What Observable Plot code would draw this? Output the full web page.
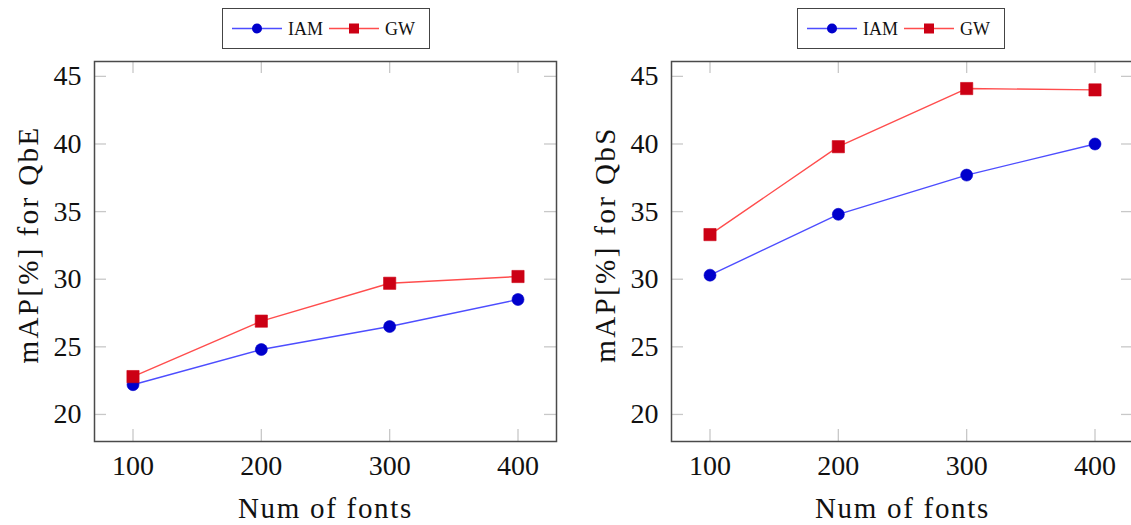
<!DOCTYPE html>
<html><head><meta charset="utf-8">
<script src="https://cdn.jsdelivr.net/npm/d3@7"></script>
<script src="https://cdn.jsdelivr.net/npm/@observablehq/plot@0.6"></script>
<style>
html,body{margin:0;padding:0;background:#fff;overflow:hidden;width:1131px;height:525px}
#root{position:relative;width:1131px;height:525px;overflow:hidden}
.panel{position:absolute;top:0}
.legend{position:absolute;top:8px;width:208px;height:41px;box-sizing:border-box;border:1.4px solid #444;background:#fff}
.legend svg{position:absolute;left:0;top:0}
.legend text{font-family:"Liberation Serif",serif}
</style></head><body><div id="root"></div>
<script>
const fonts = [100, 200, 300, 400];
const seriesNames = ["IAM", "GW"];
const qbeIAM = [22.2, 24.8, 26.5, 28.5];
const qbeGW = [22.8, 26.9, 29.7, 30.2];
const qbsIAM = [30.3, 34.8, 37.7, 40.0];
const qbsGW = [33.3, 39.8, 44.1, 44.0];
const yTicks = [20, 25, 30, 35, 40, 45];
const xTicks = [100, 200, 300, 400];
const yLabels = ["mAP[%] for QbE", "mAP[%] for QbS"];
const xLabel = "Num of fonts";

const lineColors = {IAM: "#4d4dff", GW: "#ff4d4d"};
const markColors = {IAM: "#0000cc", GW: "#cc0014"};
const FONT = "'Liberation Serif', serif";

function table(iam, gw) {
  return [
    ...fonts.map((f, i) => ({fonts: f, value: iam[i], series: "IAM"})),
    ...fonts.map((f, i) => ({fonts: f, value: gw[i], series: "GW"}))
  ];
}

function panel(iam, gw, ylabel) {
  const data = table(iam, gw);
  const W = 565, H = 525, ML = 94, MR = 9, MT = 61, MB = 84;
  const iw = W - ML - MR, ih = H - MT - MB, tl = 12;
  const tickStyle = {stroke: "#c8c8c8", strokeWidth: 1.3};
  const marks = [
    Plot.tickY(yTicks, {y: d => d, insetRight: iw - tl, ...tickStyle}),
    Plot.tickY(yTicks, {y: d => d, insetLeft: iw - tl, ...tickStyle}),
    Plot.tickX(xTicks, {x: d => d, insetTop: ih - tl, ...tickStyle}),
    Plot.tickX(xTicks, {x: d => d, insetBottom: ih - tl, ...tickStyle}),
    Plot.frame({stroke: "#4a4a4a", strokeWidth: 1.5}),
    Plot.axisX({ticks: xTicks, tickSize: 0, tickPadding: 14, fontSize: 28, label: null, fill: "#111"}),
    Plot.axisY({ticks: yTicks, tickSize: 0, tickPadding: 13, fontSize: 28, label: null, fill: "#111"})
  ];
  for (const s of seriesNames) {
    const d = data.filter(r => r.series === s);
    marks.push(Plot.line(d, {x: "fonts", y: "value", stroke: lineColors[s], strokeWidth: 1.4}));
    marks.push(Plot.dot(d, {x: "fonts", y: "value", symbol: s === "IAM" ? "circle" : "square",
      r: s === "IAM" ? 6 : 6.9, fill: markColors[s], stroke: markColors[s], strokeWidth: 0.6}));
  }
  marks.push(Plot.text([xLabel], {frameAnchor: "bottom", dy: 67, fontSize: 29, lineAnchor: "middle",
    textAnchor: "middle", fill: "#111"}));
  marks.push(Plot.text([ylabel], {frameAnchor: "left", rotate: -90, dx: -66, dy: -7, fontSize: 29,
    lineAnchor: "middle", textAnchor: "middle", fill: "#111"}));
  const svg = Plot.plot({
    width: W, height: H, marginLeft: ML, marginRight: MR, marginTop: MT, marginBottom: MB,
    x: {domain: [70, 430]},
    y: {domain: [18, 46.1]},
    style: {fontFamily: FONT, background: "transparent", overflow: "visible"},
    marks
  });
  const labels = d3.select(svg).selectAll('g[aria-label="text"] text').nodes();
  if (labels[0]) labels[0].style.letterSpacing = "1.7px";
  if (labels[1]) labels[1].style.letterSpacing = "2.4px";
  return svg;
}

function legend() {
  const div = document.createElement("div");
  div.className = "legend";
  const svg = d3.create("svg").attr("width", 208).attr("height", 41);
  const cy = 19.5;
  const items = [
    {s: "IAM", x0: 9, x1: 59, mx: 34, tx: 65},
    {s: "GW", x0: 106, x1: 156, mx: 131, tx: 162}
  ];
  for (const it of items) {
    svg.append("line").attr("x1", it.x0).attr("x2", it.x1).attr("y1", cy).attr("y2", cy)
      .attr("stroke", lineColors[it.s]).attr("stroke-width", 1.3);
    if (it.s === "IAM") {
      svg.append("circle").attr("cx", it.mx).attr("cy", cy).attr("r", 5).attr("fill", markColors[it.s]);
    } else {
      svg.append("rect").attr("x", it.mx - 5).attr("y", cy - 5).attr("width", 10).attr("height", 10)
        .attr("fill", markColors[it.s]);
    }
    svg.append("text").attr("x", it.tx).attr("y", cy).attr("dy", "0.35em")
      .attr("font-size", 18).attr("font-family", "Liberation Serif").attr("fill", "#111").text(it.s);
  }
  div.appendChild(svg.node());
  return div;
}

const root = document.getElementById("root");
const p1 = panel(qbeIAM, qbeGW, yLabels[0]);
p1.classList.add("panel"); p1.style.left = "0px";
const p2 = panel(qbsIAM, qbsGW, yLabels[1]);
p2.classList.add("panel"); p2.style.left = "577px";
root.appendChild(p1); root.appendChild(p2);
const l1 = legend(); l1.style.left = "222px";
const l2 = legend(); l2.style.left = "797px";
root.appendChild(l1); root.appendChild(l2);
</script></body></html>
